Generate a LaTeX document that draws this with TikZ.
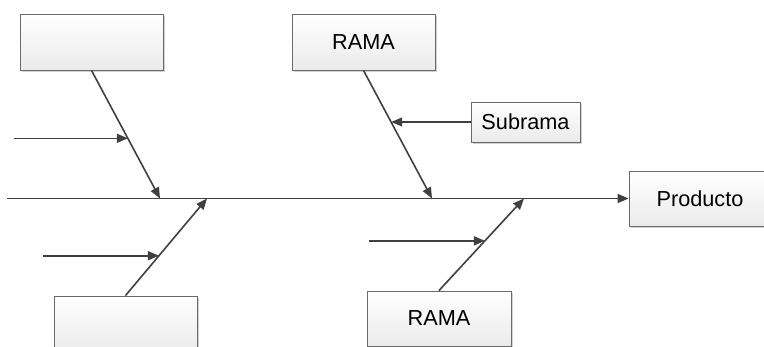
\documentclass[tikz,border=0pt]{standalone}
\usepackage{fontspec}
\setmainfont{Liberation Sans}
\usetikzlibrary{arrows.meta,calc,shadows}
\definecolor{linegray}{HTML}{404040}
\definecolor{boxline}{HTML}{6A6A6A}
\begin{document}
\begin{tikzpicture}[x=1pt,y=1pt,
  box/.style={draw=boxline, line width=0.9pt, top color=white, bottom color=black!8,
    drop shadow={shadow xshift=2pt, shadow yshift=-2pt, fill=black!18, opacity=1},
    inner sep=0pt, font=\fontsize{21.7}{26}\selectfont},
  bone/.style={draw=linegray, line width=1.6pt, -{Triangle[length=11pt,width=9pt]}}]
\useasboundingbox (0,0) rectangle (764,347);

% causes and effect
\node[box, minimum width=143pt, minimum height=56pt] (b1) at (91.5,305) {};
\node[box, minimum width=143pt, minimum height=56pt] (rama1) at (363.5,305) {RAMA};
\node[box, minimum width=109pt, minimum height=40pt] (sub) at (525.5,225) {Subrama};
\node[box, minimum width=142pt, minimum height=55pt] (prod) at (700,148.5) {Producto};
\node[box, minimum width=143pt, minimum height=56pt] (b3) at (125.5,23) {};
\node[box, minimum width=144pt, minimum height=55pt] (rama2) at (439,28.5) {RAMA};

% spine
\coordinate (tail) at (7,148.5);
\draw[bone] (tail) -- (prod.west);

% junctions on the spine
\coordinate (j1) at (160,148.5);
\coordinate (j2) at (432,148.5);
\coordinate (j3) at (207,148.5);
\coordinate (j4) at (524,148.5);

% main branches
\draw[bone] (b1.south) -- (j1);
\draw[bone] (rama1.south) -- (j2);
\draw[bone] (b3.north) -- (j3);
\draw[bone] (rama2.north) -- (j4);

% points where the sub-branches meet the branches
\coordinate (m1) at ($(b1.south)!0.53!(j1)$);
\coordinate (m2) at ($(rama1.south)!0.405!(j2)$);
\coordinate (m3) at ($(b3.north)!0.41!(j3)$);
\coordinate (m4) at ($(rama2.north)!0.54!(j4)$);

% sub-branches
\coordinate (s1) at (14,0);
\coordinate (s3) at (43,0);
\coordinate (s4) at (369,0);
\draw[bone] (s1 |- m1) -- (m1);
\draw[bone] (sub.west) -- (sub.west -| m2);
\draw[bone] (s3 |- m3) -- (m3);
\draw[bone] (s4 |- m4) -- (m4);
\end{tikzpicture}
\end{document}
